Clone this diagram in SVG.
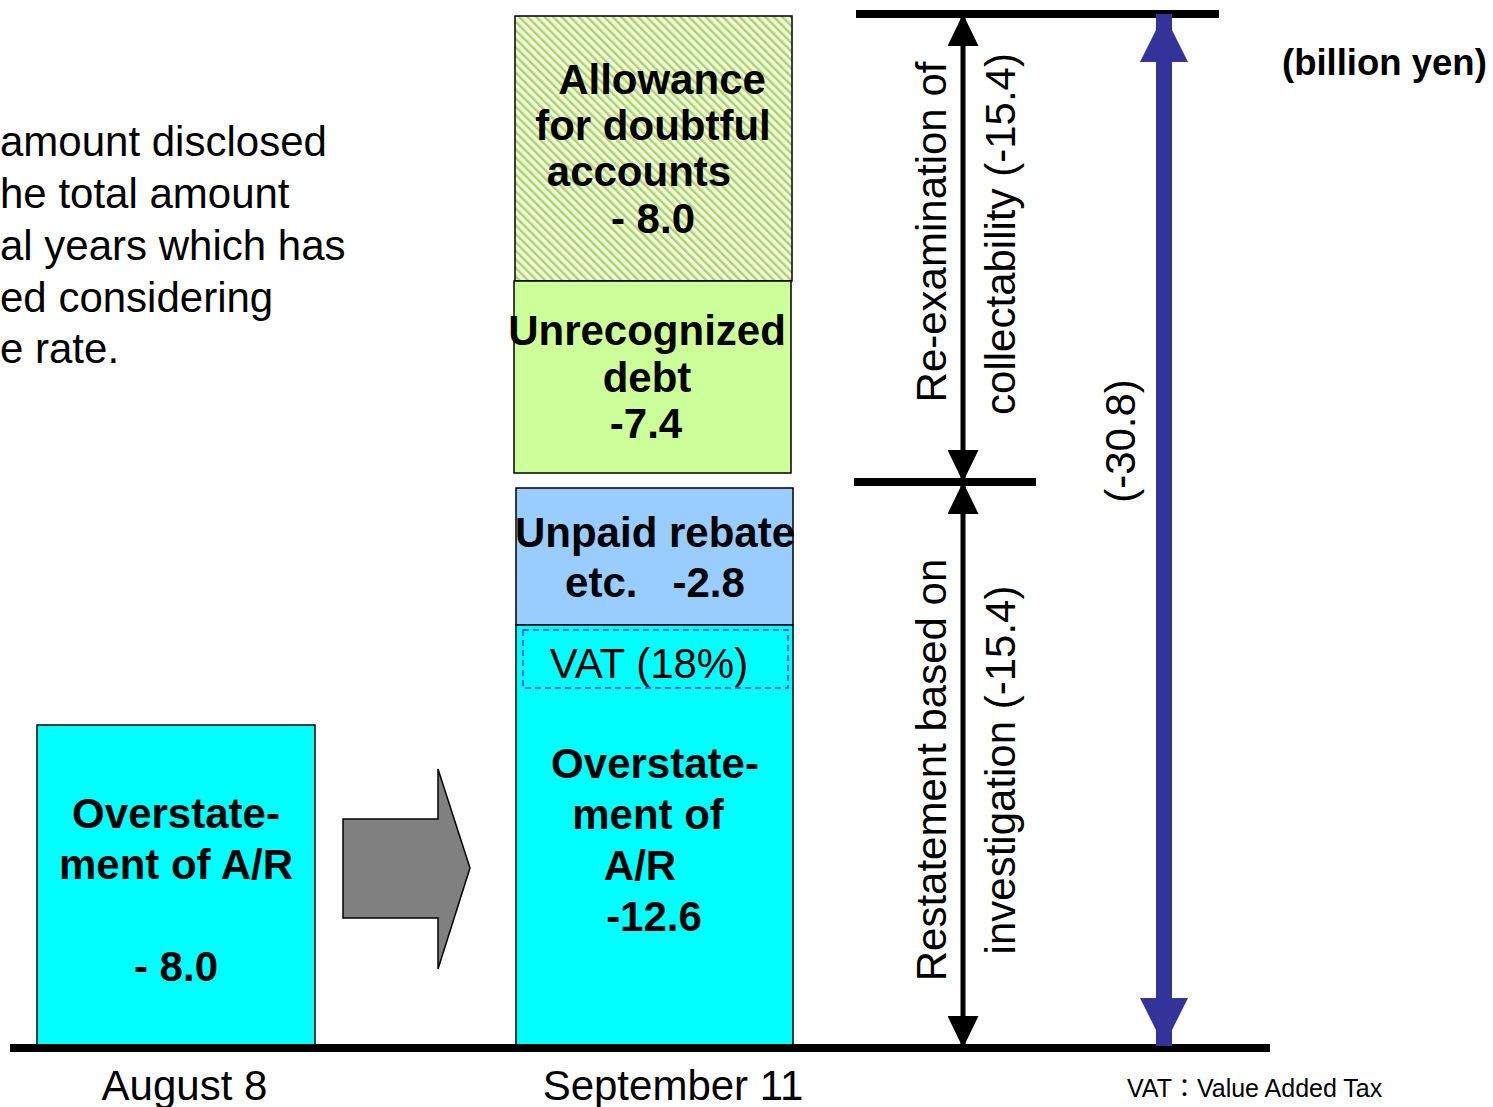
<svg xmlns="http://www.w3.org/2000/svg" width="1493" height="1107" viewBox="0 0 1493 1107">
<style>
.t{font-family:"Liberation Sans",Arial,sans-serif;font-size:42px;fill:#000}
.b{font-family:"Liberation Sans",Arial,sans-serif;font-size:42px;font-weight:bold;fill:#000;text-anchor:middle}
.box{stroke:#000;stroke-width:1.5}
.bar{fill:#000}
</style>
<defs>
<pattern id="hatch" width="6" height="6" patternUnits="userSpaceOnUse" patternTransform="rotate(-45)">
<rect width="6" height="6" fill="#f3fae4"/>
<rect x="0" y="0" width="2.5" height="6" fill="#add566"/>
</pattern>
<marker id="ah" viewBox="0 0 32 31" refX="32" refY="15.5" markerWidth="32" markerHeight="31" markerUnits="userSpaceOnUse" orient="auto-start-reverse">
<path d="M0,0 L32,15.5 L0,31 Z" fill="#000"/>
</marker>
<marker id="bh" viewBox="0 0 48 48" refX="48" refY="24" markerWidth="48" markerHeight="48" markerUnits="userSpaceOnUse" orient="auto-start-reverse">
<path d="M0,0 L48,24 L0,48 Z" fill="#333399"/>
</marker>
</defs>
<rect width="1493" height="1107" fill="#fff"/>

<g id="note">
<text class="t" x="0" y="156">amount disclosed</text>
<text class="t" x="0" y="208">he total amount</text>
<text class="t" x="0" y="260">al years which has</text>
<text class="t" x="0" y="312">ed considering</text>
<text class="t" x="0" y="363">e rate.</text>
</g>

<g id="unit">
<text x="1282" y="75" style="font-family:'Liberation Sans',Arial,sans-serif;font-size:36.5px;font-weight:bold">(billion yen)</text>
</g>

<g id="aug-box">
<rect class="box" x="37" y="725" width="278" height="323" fill="#00ffff"/>
<text class="b" x="176" y="828">Overstate-</text>
<text class="b" x="176" y="879">ment of A/R</text>
<text class="b" x="176" y="981">- 8.0</text>
</g>

<g id="big-arrow">
<polygon points="343,819 438,819 438,769 470,868 438,969 438,918 343,918" fill="#808080" stroke="#000" stroke-width="1.5"/>
</g>

<g id="allowance">
<rect class="box" x="515" y="16" width="277" height="265" fill="url(#hatch)"/>
<text class="b" x="662" y="94">Allowance</text>
<text class="b" x="653" y="140">for doubtful</text>
<text class="b" x="639" y="186">accounts</text>
<text class="b" x="653" y="233">- 8.0</text>
</g>

<g id="unrecognized">
<rect class="box" x="514" y="281" width="277" height="192" fill="#ccff99"/>
<text class="b" x="647" y="345">Unrecognized</text>
<text class="b" x="647" y="392">debt</text>
<text class="b" x="646" y="438">-7.4</text>
</g>

<g id="unpaid">
<rect class="box" x="516" y="488" width="277" height="137" fill="#99ccff"/>
<text class="b" x="655" y="547">Unpaid rebate</text>
<text class="b" x="655" y="597" xml:space="preserve">etc.   -2.8</text>
</g>

<g id="overstatement">
<rect class="box" x="516" y="625" width="277" height="423" fill="#00ffff"/>
<rect x="523" y="630" width="265" height="58" fill="none" stroke="#3333ff" stroke-width="1.5" stroke-dasharray="6,4"/>
<text class="t" x="649" y="678" text-anchor="middle">VAT (18%)</text>
<text class="b" x="655" y="778">Overstate-</text>
<text class="b" x="648" y="829">ment of</text>
<text class="b" x="640" y="880">A/R</text>
<text class="b" x="654" y="931">-12.6</text>
</g>

<g id="connectors">
<rect class="bar" x="10" y="1044" width="1260" height="8"/>
<rect class="bar" x="856" y="10" width="363" height="8"/>
<rect class="bar" x="854" y="478" width="182" height="8"/>
<line x1="963" y1="482" x2="963" y2="14" stroke="#000" stroke-width="5" marker-start="url(#ah)" marker-end="url(#ah)"/>
<line x1="963" y1="1048" x2="963" y2="482" stroke="#000" stroke-width="5" marker-start="url(#ah)" marker-end="url(#ah)"/>
<line x1="1164" y1="1046" x2="1164" y2="14" stroke="#333399" stroke-width="16" marker-start="url(#bh)" marker-end="url(#bh)"/>
</g>

<g id="labels">
<text class="t" transform="translate(946,232) rotate(-90)" text-anchor="middle">Re-examination of</text>
<text class="t" transform="translate(1015,234) rotate(-90)" text-anchor="middle">collectability (-15.4)</text>
<text class="t" transform="translate(946,770) rotate(-90)" text-anchor="middle">Restatement based on</text>
<text class="t" transform="translate(1015,770) rotate(-90)" text-anchor="middle">investigation (-15.4)</text>
<text class="t" transform="translate(1135,441) rotate(-90)" text-anchor="middle">(-30.8)</text>
<text class="t" x="184.5" y="1100" text-anchor="middle">August 8</text>
<text class="t" x="673" y="1100" text-anchor="middle">September 11</text>
<text x="1127" y="1097" style="font-family:'Liberation Sans','Noto Sans CJK JP',sans-serif;font-size:25px">VAT：Value Added Tax</text>
</g>
</svg>
